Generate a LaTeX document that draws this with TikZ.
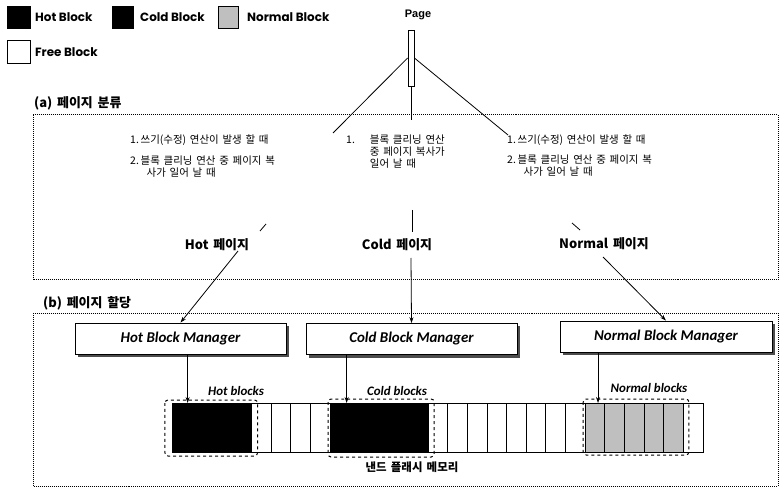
\documentclass[tikz,border=0pt]{standalone}
\usepackage{fontspec}
\setmainfont{Liberation Sans}
\newfontfamily\krfont{Noto Sans CJK KR}
\newfontfamily\krwide[WordSpace=1.6]{Noto Sans CJK KR}
\newfontfamily\legfont{Poppins}
\newfontfamily\mgrfont{Carlito}
\usetikzlibrary{arrows.meta,backgrounds,calc}

\begin{document}
\begin{tikzpicture}[yscale=-1,x=1bp,y=1bp,
  legbox/.style={draw,line width=0.8bp,minimum width=22bp,minimum height=22bp,inner sep=0pt},
  leg/.style={font=\legfont\bfseries\fontsize{12}{14}\selectfont,anchor=west,inner sep=0pt},
  zone/.style={densely dotted,line width=1bp},
  zonelab/.style={font=\krfont\bfseries\fontsize{13}{15}\selectfont,anchor=west,inner sep=0pt},
  cond/.style={font=\krwide\fontsize{10.5}{12}\selectfont,align=left,inner sep=0pt,anchor=north west},
  pglab/.style={font=\krfont\bfseries\fontsize{13}{15}\selectfont,inner sep=0pt},
  mgr/.style={draw,line width=0.8bp,fill=white,minimum width=211bp,minimum height=31bp,inner sep=0pt,
    font=\mgrfont\bfseries\itshape\fontsize{15}{17}\selectfont},
  cell/.style={draw,line width=1bp,minimum width=19.63bp,minimum height=49bp,inner sep=0pt,outer sep=0pt},
  grp/.style={dashed,line width=1bp,rounded corners=3bp},
  blklab/.style={font=\mgrfont\bfseries\itshape\fontsize{13}{15}\selectfont,inner sep=0pt},
  arr/.style={-{Stealth[length=6pt,width=4pt]},line width=0.6bp}]

  \useasboundingbox (0,0) rectangle (780,488);

  % --- Legende ---
  \node[legbox,fill=black,minimum width=23bp] (lhot) at (18.5,17) {};
  \node[leg] (lhottxt) at (35,17) {Hot Block};
  \node[legbox,fill=black,minimum width=21bp] (lcold) at (122.5,17) {};
  \node[leg] (lcoldtxt) at (140,17) {Cold Block};
  \node[legbox,fill=gray!50,minimum width=20bp] (lnorm) at (228,17) {};
  \node[leg] (lnormtxt) at (247,17) {Normal Block};
  \node[legbox,fill=white,minimum width=23bp,minimum height=23bp] (lfree) at (18.5,51.5) {};
  \node[leg] (lfreetxt) at (35,52) {Free Block};

  % --- Page ---
  \node[font=\bfseries\fontsize{11}{13}\selectfont] (pagelab) at (418,15) {Page};
  \node[draw,line width=0.8bp,minimum width=6bp,minimum height=56bp,inner sep=0pt] (page) at (411,58) {};

  % ======================================================================
  % (a) Seitenklassifikation
  % ======================================================================
  \draw[zone] (33,115) rectangle (778,280);
  \node[zonelab] (zonea) at (34,103) {(a) 페이지 분류};

  \node[cond] (cond1) at (130,134.5) {\begin{tabular}{@{}l@{\,}l@{}}1. & 쓰기(수정) 연산이 발생 할 때\\[9bp]
    2. & 블록 클리닝 연산 중 페이지 복\\ & \hspace{6bp}사가 일어 날 때\end{tabular}};
  \node[cond] (cond2) at (346,134.5) {\begin{tabular}{@{}l@{\hspace{15bp}}l@{}}1. & 블록 클리닝 연산\\
    & 중 페이지 복사가\\ & 일어 날 때\end{tabular}};
  \node[cond] (cond3) at (507,134.5) {\begin{tabular}{@{}l@{\,}l@{}}1. & 쓰기(수정) 연산이 발생 할 때\\[8bp]
    2. & 블록 클리닝 연산 중 페이지 복\\ & \hspace{6bp}사가 일어 날 때\end{tabular}};

  \coordinate (pl) at (333,133);
  \coordinate (pm) at (411,120);
  \coordinate (pr) at (508,135);
  \draw[line width=0.8bp] (page.west) -- (pl);
  \draw[line width=0.8bp] (page.south) -- (pm);
  \draw[line width=0.8bp] (page.east) -- (pr);

  \node[pglab] (hotpg) at (217,245) {Hot 페이지};
  \node[pglab] (coldpg) at (397,245) {Cold 페이지};
  \node[pglab] (normpg) at (604,244) {Normal 페이지};

  % kurze Stuecke zwischen Bedingung und Seitentyp
  \draw[line width=0.8bp] (260,231) -- (266,224);
  \draw[line width=0.8bp] (412,210) -- (412,232);
  \draw[line width=0.8bp] (572,223) -- (580,230);

  % ======================================================================
  % (b) Seitenzuteilung
  % ======================================================================
  \draw[zone] (33,313) rectangle (778,486);
  \node[zonelab] (zoneb) at (43,303) {(b) 페이지 할당};

  \node[mgr] (hotmgr) at (180.5,338.5) {Hot Block Manager};
  \node[mgr] (coldmgr) at (411.5,339) {Cold Block Manager};
  \node[mgr,minimum width=212bp] (normmgr) at (666,336.5) {Normal Block Manager};
  \begin{scope}[on background layer]
    \foreach \m in {hotmgr,coldmgr,normmgr}
      \fill[black!70] ($(\m.north west)+(3,3)$) rectangle ($(\m.south east)+(3,3)$);
  \end{scope}

  \coordinate (hotst) at (238,251);
  \coordinate (coldst) at (411,258);
  \coordinate (normst) at (603,257);
  \draw[arr,line width=0.8bp] (hotst) -- (hotmgr.north);
  \draw[arr,line width=0.8bp] (coldst) -- (coldmgr.north);
  \draw[arr,line width=0.8bp] (normst) -- (normmgr.north);

  % --- NAND-Speicher ---
  \foreach \a/\b/\f in {0/3/black,4/7/white,8/12/black,13/20/white,21/25/gray!50,26/26/white}
    \foreach \i in {\a,...,\b}
      \node[cell,fill=\f] (c\i) at ({182.8+19.63*\i},427.5) {};

  \draw[grp] ($(c0.north west)+(-8,-3)$) rectangle ($(c4.south west)+(6,4)$);
  \draw[grp] ($(c8.north west)+(-2,-4)$) rectangle ($(c13.south west)+(6,5)$);
  \draw[grp] ($(c21.north west)+(-2,-4)$) rectangle ($(c26.south west)+(5.5,3)$);

  \node[blklab] (hotblk) at (236,391) {Hot blocks};
  \node[blklab] (coldblk) at (397,391) {Cold blocks};
  \node[blklab] (normblk) at (649,388) {Normal blocks};

  \coordinate (hottip) at ($(c0.north east)+(-5,0)$);
  \coordinate (coldtip) at ($(c8.north east)+(-3,0)$);
  \coordinate (normtip) at ($(c21.north)+(3,0)$);
  \draw[arr] (hotmgr.south -| hottip) -- (hottip);
  \draw[arr] (coldmgr.south -| coldtip) -- (coldtip);
  \draw[arr] (normmgr.south -| normtip) -- (normtip);

  \node[font=\krfont\bfseries\fontsize{11.5}{13}\selectfont] (nand) at (412,467) {낸드 플래시 메모리};

\end{tikzpicture}
\end{document}
